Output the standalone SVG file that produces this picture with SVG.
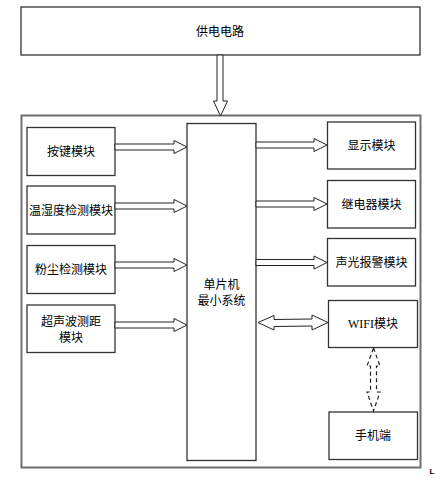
<svg xmlns="http://www.w3.org/2000/svg" width="437" height="478" viewBox="0 0 437 478">
<style>
.box{fill:#fff;stroke:#333;stroke-width:1.3}
.outer{fill:none;stroke:#6e6e6e;stroke-width:2}
.arr{fill:#fff;stroke:#222;stroke-width:1}
.dash{fill:none;stroke:#222;stroke-width:1.2;stroke-dasharray:4 3}
text{font-family:"Liberation Serif","Noto Sans CJK SC",serif;font-size:12px;fill:#000;text-anchor:middle}
</style>
<rect width="437" height="478" fill="#fff"/>
<rect class="outer" x="21.5" y="115.5" width="399" height="352"/>
<g id="power"><rect class="box" x="21" y="7" width="399" height="48"/><text x="220" y="36">供电电路</text></g>
<g id="key"><rect class="box" x="27" y="127.5" width="88" height="48"/><text x="71" y="156">按键模块</text></g>
<g id="temp"><rect class="box" x="27" y="186" width="88" height="48"/><text x="71" y="215">温湿度检测模块</text></g>
<g id="dust"><rect class="box" x="27" y="245.5" width="88" height="48"/><text x="71" y="274">粉尘检测模块</text></g>
<g id="ultra"><rect class="box" x="27" y="305" width="88" height="47.5"/><text x="71" y="326">超声波测距</text><text x="71" y="342">模块</text></g>
<g id="mcu"><rect class="box" x="187" y="123.5" width="69" height="337"/><text x="221.5" y="289">单片机</text><text x="221.5" y="305">最小系统</text></g>
<g id="display"><rect class="box" x="327.5" y="122" width="88" height="47"/><text x="371.5" y="150">显示模块</text></g>
<g id="relay"><rect class="box" x="327.5" y="180.5" width="88" height="47.5"/><text x="371.5" y="209">继电器模块</text></g>
<g id="alarm"><rect class="box" x="327.5" y="238.5" width="88" height="47.5"/><text x="371.5" y="267">声光报警模块</text></g>
<g id="wifi"><rect class="box" x="328.5" y="300.5" width="89" height="47"/><text x="373" y="328">WIFI模块</text></g>
<g id="phone"><rect class="box" x="329" y="412" width="88.5" height="47.5"/><text x="373" y="440">手机端</text></g>
<g id="connectors">
<polygon class="arr" points="217,55 223,55 223,101 227.5,101 220.5,116 213.5,101 217,101"/>
<polygon class="arr" points="115,144 174,144 174,140.5 187,147 174,153.5 174,150 115,150"/>
<polygon class="arr" points="115,203 174,203 174,199.5 187,206 174,212.5 174,209 115,209"/>
<polygon class="arr" points="115,262 174,262 174,258.5 187,265 174,271.5 174,268 115,268"/>
<polygon class="arr" points="115,322 174,322 174,318.5 187,325 174,331.5 174,328 115,328"/>
<polygon class="arr" points="256,142 314,142 314,138.5 327,145 314,151.5 314,148 256,148"/>
<polygon class="arr" points="256,201 314,201 314,197.5 327,204 314,210.5 314,207 256,207"/>
<polygon class="arr" points="256,259.5 314,259.5 314,256 327,262.5 314,269 314,265.5 256,265.5"/>
<polygon class="arr" points="258,322.5 274,315.5 274,319.5 312,319 312,315 328,322.5 312,330 312,326 274,326.5 274,330"/>
<polygon class="dash" points="373.5,348 380,366 376.5,366 376.5,392 380,392 373.5,411 367,392 370.5,392 370.5,366 367,366"/>
</g>
<text x="432" y="474" style="font-family:'Liberation Sans',sans-serif;font-size:8px;font-weight:bold">L</text>
</svg>
